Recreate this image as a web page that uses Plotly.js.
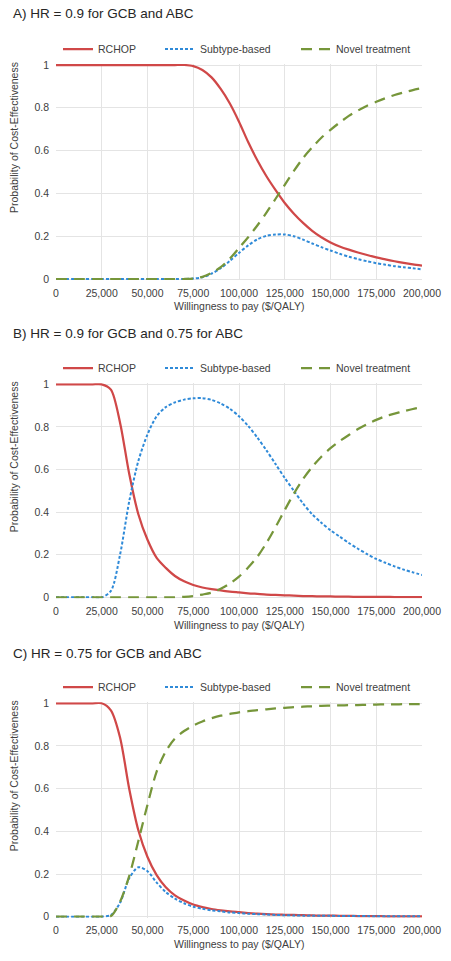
<!DOCTYPE html>
<html><head><meta charset="utf-8">
<script src="https://cdn.plot.ly/plotly-3.0.1.min.js"></script>
<style>html,body{margin:0;padding:0;background:#fff}</style>
</head><body><div id="chart" style="width:451px;height:961px"></div>
<script>
// Willingness to pay ($/QALY)
const wtp = [0,5000,10000,15000,20000,25000,30000,35000,40000,45000,50000,55000,60000,65000,70000,75000,80000,85000,90000,95000,100000,105000,110000,115000,120000,125000,130000,135000,140000,145000,150000,155000,160000,165000,170000,175000,180000,185000,190000,195000,200000];

const seriesNames = ["RCHOP", "Subtype-based", "Novel treatment"];
const panelTitles = ["A) HR = 0.9 for GCB and ABC", "B) HR = 0.9 for GCB and 0.75 for ABC", "C) HR = 0.75 for GCB and ABC"];
const xTickVals = [0,25000,50000,75000,100000,125000,150000,175000,200000];
const yTickVals = [0,0.2,0.4,0.6,0.8,1];
const xTitle = "Willingness to pay ($/QALY)";
const yTitle = "Probability of Cost-Effectiveness";

// Panel A
const rchopA = [1,1,1,1,1,1,1,1,1,1,1,1,1,1,1,0.995,0.977,0.942,0.888,0.82,0.735,0.64,0.555,0.48,0.415,0.355,0.305,0.262,0.225,0.195,0.171,0.152,0.137,0.124,0.112,0.101,0.092,0.083,0.075,0.068,0.062];
const subtypeA = [0,0,0,0,0,0,0,0,0,0,0,0,0,0,0,0.002,0.008,0.025,0.05,0.085,0.122,0.157,0.185,0.202,0.208,0.208,0.2,0.184,0.166,0.149,0.133,0.118,0.104,0.093,0.083,0.074,0.067,0.06,0.055,0.05,0.045];
const novelA = [0,0,0,0,0,0,0,0,0,0,0,0,0,0,0,0.002,0.01,0.028,0.055,0.095,0.145,0.195,0.25,0.31,0.375,0.44,0.505,0.565,0.615,0.66,0.697,0.731,0.762,0.787,0.81,0.828,0.845,0.86,0.872,0.883,0.892];

// Panel B
const rchopB = [1,1,1,1,1,1,0.975,0.82,0.58,0.39,0.27,0.185,0.138,0.1,0.075,0.058,0.046,0.038,0.032,0.027,0.023,0.019,0.016,0.013,0.011,0.009,0.008,0.006,0.005,0.004,0.004,0.003,0.003,0.002,0.002,0.002,0.002,0.001,0.001,0.001,0.001];
const subtypeB = [0,0,0,0,0,0,0.03,0.2,0.45,0.64,0.765,0.85,0.893,0.915,0.928,0.934,0.935,0.927,0.91,0.885,0.85,0.805,0.75,0.69,0.625,0.56,0.5,0.44,0.39,0.35,0.315,0.285,0.255,0.228,0.203,0.18,0.162,0.145,0.13,0.117,0.105];
const novelB = [0,0,0,0,0,0,0,0,0,0,0,0,0,0,0.002,0.006,0.013,0.022,0.04,0.065,0.097,0.14,0.19,0.255,0.33,0.41,0.487,0.555,0.612,0.66,0.70,0.733,0.762,0.79,0.813,0.833,0.85,0.862,0.874,0.884,0.892];

// Panel C
const rchopC = [1,1,1,1,1,1,0.967,0.84,0.6,0.405,0.28,0.195,0.138,0.1,0.076,0.057,0.045,0.036,0.03,0.025,0.021,0.017,0.014,0.012,0.01,0.009,0.008,0.007,0.006,0.005,0.005,0.004,0.004,0.003,0.003,0.003,0.002,0.002,0.002,0.002,0.002];
const subtypeC = [0,0,0,0,0,0,0.008,0.065,0.18,0.232,0.213,0.16,0.115,0.085,0.063,0.047,0.037,0.03,0.025,0.02,0.017,0.014,0.012,0.01,0.008,0.007,0.006,0.005,0.005,0.004,0.004,0.003,0.003,0.003,0.003,0.002,0.002,0.002,0.002,0.002,0.002];
const novelC = [0,0,0,0,0,0,0.003,0.07,0.19,0.355,0.525,0.68,0.775,0.835,0.87,0.896,0.915,0.93,0.942,0.95,0.958,0.963,0.968,0.972,0.976,0.979,0.982,0.984,0.986,0.988,0.989,0.99,0.991,0.992,0.993,0.994,0.995,0.995,0.996,0.996,0.997];

const panelData = [[rchopA, subtypeA, novelA], [rchopB, subtypeB, novelB], [rchopC, subtypeC, novelC]];

const W = 451, H = 961;
const colors = ["#d04848", "#2f8ad8", "#76963a"];
const dashes = ["solid", "3px,2px", "11px,7px"];
const widths = [2.25, 2, 2.25];
const FONT = "Liberation Sans, Arial, sans-serif";
const TXT = "#404040";

const plotLeft = 56, plotRight = 422;
const legendItemX = [58, 160, 296];
const panels = [
  {top: 65, bottom: 279, titleY: 14, legendY: 49, xLabelY: 306},
  {top: 384.3, bottom: 597.3, titleY: 334, legendY: 368, xLabelY: 625},
  {top: 703.3, bottom: 916.7, titleY: 653, legendY: 687, xLabelY: 944}
];
const pad = 0.005;
const py = p => 1 - p / H;
const px = p => p / W;

const traces = [];
const layout = {
  width: W, height: H,
  margin: {l: 0, r: 0, t: 0, b: 0},
  paper_bgcolor: "#fff", plot_bgcolor: "#fff",
  font: {family: FONT, size: 10.5, color: TXT},
  showlegend: true,
  annotations: []
};

let legendCount = 0;
panels.forEach((p, i) => {
  const n = i === 0 ? "" : String(i + 1);
  const span = p.bottom - p.top;
  const dTop = p.top - pad * span, dBot = p.bottom + pad * span;
  layout["xaxis" + n] = {
    domain: [px(plotLeft), px(plotRight)],
    anchor: "y" + n,
    range: [0, 200000],
    tickvals: xTickVals,
    tickformat: ",d",
    showgrid: true, gridcolor: "#e4e4e4", gridwidth: 1,
    zeroline: false, showline: false, ticks: "",
    ticklabelstandoff: 5,
    tickfont: {size: 10.5, color: TXT},
    fixedrange: true
  };
  layout["yaxis" + n] = {
    domain: [py(dBot), py(dTop)],
    anchor: "x" + n,
    range: [-pad, 1 + pad],
    tickvals: yTickVals,
    ticktext: yTickVals.map(v => String(v)),
    showgrid: true, gridcolor: "#e4e4e4", gridwidth: 1,
    zeroline: false, showline: false, ticks: "",
    ticklabelstandoff: 6,
    tickfont: {size: 10.5, color: TXT},
    fixedrange: true
  };
  panelData[i].forEach((ys, k) => {
    legendCount += 1;
    const legKey = legendCount === 1 ? "legend" : "legend" + legendCount;
    layout[legKey] = {
      orientation: "h",
      x: px(legendItemX[k]), xanchor: "left",
      y: py(p.legendY), yanchor: "middle",
      bgcolor: "rgba(0,0,0,0)",
      font: {size: 10.5, color: TXT}
    };
    traces.push({
      type: "scatter", mode: "lines",
      x: wtp, y: ys,
      name: seriesNames[k],
      xaxis: "x" + n, yaxis: "y" + n,
      legend: legKey,
      line: {color: colors[k], width: widths[k], dash: dashes[k], shape: "spline", smoothing: 0.8},
      hoverinfo: "skip"
    });
  });
  layout.annotations.push({
    text: panelTitles[i], xref: "paper", yref: "paper",
    x: px(11), y: py(p.titleY), xanchor: "left", yanchor: "middle",
    showarrow: false, font: {size: 13.5, color: "#262626"}
  });
  layout.annotations.push({
    text: xTitle, xref: "paper", yref: "paper",
    x: px((plotLeft + plotRight) / 2), y: py(p.xLabelY), xanchor: "center", yanchor: "middle",
    showarrow: false, font: {size: 10.5, color: TXT}
  });
  layout.annotations.push({
    text: yTitle, xref: "paper", yref: "paper",
    x: px(14), y: py(p.top + 73), xanchor: "center", yanchor: "middle",
    textangle: -90,
    showarrow: false, font: {size: 10.5, color: TXT}
  });
});

Plotly.newPlot("chart", traces, layout, {displayModeBar: false, staticPlot: true});
</script>
</body></html>
